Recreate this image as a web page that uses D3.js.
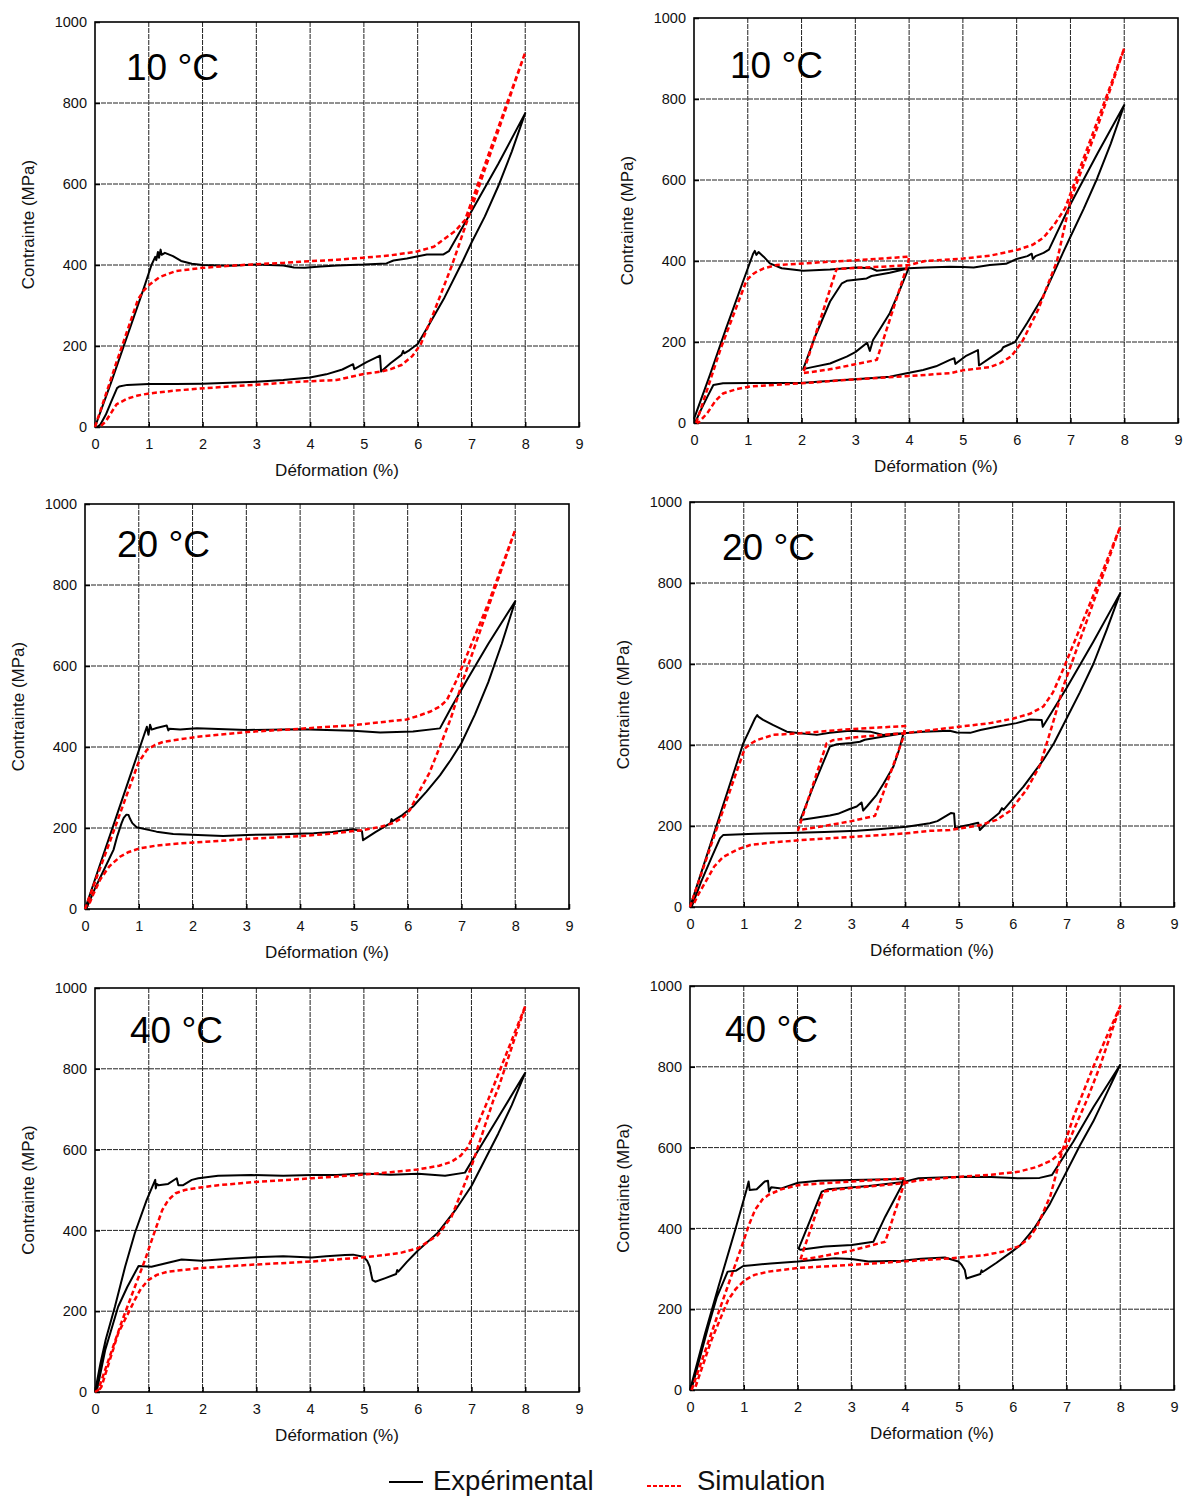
<!DOCTYPE html>
<html><head><meta charset="utf-8">
<script src="https://cdn.jsdelivr.net/npm/d3@7"></script>
<style>body{margin:0;background:#fff}</style>
</head><body><svg id="c" width="1186" height="1497"></svg>
<script>
const xTicks=[0,1,2,3,4,5,6,7,8,9];
const yTicks=[0,200,400,600,800,1000];
const gridX=[1,2,3,4,5,6,7,8];
const gridY=[200,400,600,800];
const xTitle="Déformation (%)";
const yTitle="Contrainte (MPa)";
const panelLabels=["10 °C","10 °C","20 °C","20 °C","40 °C","40 °C"];
const legendLabels=["Expérimental","Simulation"];

// Panel 1 : 10 °C, full cycle
const exp10a=[[0,0],[0.3,110],[0.6,225],[0.9,340],[1.05,400],[1.12,420],[1.14,412],[1.17,432],[1.19,418],[1.22,438],[1.24,425],[1.3,430],[1.45,422],[1.6,410],[1.8,403],[2.0,400],[2.5,398],[3.0,401],[3.5,399],[3.7,394],[3.9,393],[4.2,396],[4.5,399],[5.0,401],[5.42,404],[5.55,411],[5.8,416],[6.17,426],[6.48,426],[6.58,434],[6.91,511],[7.5,650],[8.0,775],
 [7.75,680],[7.5,595],[7.25,520],[7.0,455],[6.84,410],[6.5,320],[6.2,250],[6.0,205],[5.85,190],[5.75,182],[5.73,188],[5.7,178],[5.5,158],[5.32,137],[5.3,176],[5.05,160],[4.82,143],[4.8,155],[4.6,142],[4.3,130],[4.0,122],[3.5,116],[3.0,112],[2.5,109],[2.0,107],[1.5,106],[1.0,106],[0.6,104],[0.45,100],[0.41,96],[0.3,62],[0.2,30],[0.1,6],[0.04,0]];
const sim10a=[[0,0],[0.4,160],[0.8,315],[0.9,336],[1.0,350],[1.2,370],[1.5,385],[2.0,393],[2.5,398],[3.0,402],[3.5,405],[3.81,408],[4.5,413],[5.0,418],[5.5,424],[5.98,433],[6.3,445],[6.47,462],[6.7,484],[6.88,511],[7.5,740],[8.0,925],
 [7.5,732],[7.0,540],[6.64,400],[6.3,283],[6.06,205],[5.9,175],[5.7,153],[5.5,143],[5.33,137],[5.0,131],[4.49,116],[3.81,112],[3.19,106],[2.5,100],[1.95,95],[1.5,90],[1.02,83],[0.8,78],[0.6,70],[0.4,56],[0.3,35],[0.2,14],[0.09,0]];

// Panel 2 : 10 °C, partial cycle
const exp10b=[[0,10],[0.3,120],[0.6,235],[0.9,345],[1.05,400],[1.1,418],[1.13,425],[1.16,415],[1.2,422],[1.3,410],[1.41,394],[1.63,382],[2.03,376],[2.53,379],[3.02,384],[3.3,382],[3.4,376],[3.7,380],[3.99,382],
 [3.8,320],[3.64,271],[3.45,230],[3.33,205],[3.27,178],[3.22,198],[3.0,175],[2.84,164],[2.53,147],[2.2,138],[2.03,133],
 [2.25,213],[2.53,300],[2.75,345],[2.84,351],[3.21,357],[3.3,363],[3.64,371],[3.99,382],
 [4.3,384],[4.76,386],[5.0,385],[5.2,384],[5.5,390],[5.8,393],[6.0,405],[6.2,412],[6.28,418],[6.3,405],[6.35,412],[6.5,420],[6.6,428],[7.0,540],[7.5,665],[8.0,785],
 [7.75,690],[7.5,605],[7.25,530],[7.0,460],[6.86,420],[6.5,315],[6.2,248],[5.97,200],[5.75,187],[5.72,180],[5.5,160],[5.3,142],[5.28,180],[5.05,165],[4.86,146],[4.84,160],[4.76,156],[4.5,140],[4.26,131],[4.0,124],[3.64,114],[3.0,108],[2.5,104],[1.97,99],[1.0,99],[0.54,98],[0.36,94],[0.25,65],[0.12,30],[0.02,1]];
const sim10b=[[0.04,0],[0.5,185],[0.98,353],[1.1,368],[1.17,374],[1.3,382],[1.54,390],[2.03,394],[2.5,398],[3.02,402],[3.5,406],[4.0,411],[3.98,395],[3.40,156],[3.0,145],[2.5,132],[2.03,123],[2.65,380],[3.0,383],[3.5,386],[3.99,390],[4.3,400],[4.76,404],[5.0,406],[5.5,413],[6.0,427],[6.3,440],[6.5,458],[6.7,490],[6.9,530],[7.5,745],[8.0,925],
 [7.5,730],[7.0,550],[6.75,400],[6.4,280],[6.1,200],[5.9,165],[5.7,148],[5.5,138],[5.0,130],[4.76,123],[4.0,116],[3.0,108],[2.4,102],[2.0,98],[1.5,94],[1.04,90],[0.8,84],[0.54,73],[0.4,55],[0.25,25],[0.1,3],[0.05,0]];

// Panel 3 : 20 °C, full cycle
const exp20a=[[0,0],[0.3,118],[0.6,235],[0.9,352],[1.15,450],[1.18,430],[1.21,455],[1.24,443],[1.33,447],[1.52,453],[1.55,441],[1.57,445],[1.77,443],[2.08,446],[3.01,442],[4.0,444],[4.99,440],[5.49,436],[6.1,438],[6.6,446],[6.8,495],[7.1,565],[7.5,655],[8.0,760],
 [7.75,655],[7.5,560],[7.25,480],[7.0,410],[6.8,368],[6.6,330],[6.35,290],[6.1,253],[5.9,232],[5.72,217],[5.7,222],[5.68,212],[5.4,190],[5.17,170],[5.15,192],[4.99,197],[4.6,190],[4.25,187],[3.5,184],[3.01,183],[2.57,180],[2.1,183],[1.64,185],[1.33,191],[0.96,202],[0.88,212],[0.84,222],[0.81,232],[0.77,233],[0.72,225],[0.68,212],[0.6,180],[0.53,146],[0.4,110],[0.2,55],[0.03,2]];
const sim20a=[[0,0],[0.5,180],[0.99,360],[1.15,393],[1.3,405],[1.46,413],[2.08,425],[3.01,437],[4.0,445],[4.99,454],[5.98,468],[6.2,477],[6.41,487],[6.6,500],[6.73,516],[6.91,565],[7.5,755],[8.0,936],
 [7.5,745],[7.03,565],[6.8,470],[6.6,401],[6.4,335],[6.23,294],[6.04,244],[5.9,225],[5.73,212],[5.5,203],[5.17,195],[4.5,185],[4.0,180],[3.01,173],[2.5,168],[1.77,162],[1.3,156],[1.02,150],[0.8,140],[0.65,129],[0.45,105],[0.28,72],[0.15,35],[0.06,6]];

// Panel 4 : 20 °C, partial cycle
const exp20b=[[0,0],[0.3,122],[0.6,245],[0.99,404],[1.1,435],[1.21,466],[1.25,474],[1.27,470],[1.36,462],[1.55,449],[1.8,433],[2.05,429],[2.36,425],[2.6,430],[2.97,435],[3.35,433],[3.5,428],[3.59,425],[3.8,428],[3.97,429],
 [3.88,385],[3.78,346],[3.6,305],[3.47,277],[3.3,250],[3.22,238],[3.19,258],[3.1,248],[2.97,242],[2.75,230],[2.6,226],[2.3,220],[2.05,215],
 [2.3,300],[2.6,396],[2.73,402],[3.0,405],[3.16,408],[3.25,413],[3.6,421],[3.97,429],
 [4.34,433],[4.83,435],[4.96,431],[5.21,430],[5.4,437],[5.7,445],[6.07,454],[6.32,463],[6.54,462],[6.56,445],[7.0,540],[7.5,655],[8.0,775],
 [7.75,685],[7.5,600],[7.25,530],[7.0,465],[6.77,405],[6.57,363],[6.2,297],[5.83,240],[5.8,244],[5.75,232],[5.5,205],[5.39,190],[5.36,208],[5.2,203],[5.02,198],[4.93,194],[4.91,231],[4.85,232],[4.6,212],[4.46,207],[4.03,198],[3.5,192],[3.1,188],[2.5,185],[1.86,183],[1.2,181],[0.62,178],[0.56,170],[0.4,122],[0.2,60],[0.03,0]];
const sim20b=[[0,0],[0.5,195],[1.02,392],[1.15,405],[1.24,412],[1.55,425],[2.05,429],[2.5,434],[2.97,439],[3.5,443],[4.0,447],[3.97,420],[3.44,225],[3.0,212],[2.5,200],[2.01,190],[2.54,404],[2.66,412],[3.0,418],[3.5,424],[3.97,429],[4.5,437],[5.0,445],[5.58,454],[6.0,465],[6.32,477],[6.57,495],[6.75,530],[6.95,590],[7.44,750],[8.0,939],
 [7.5,752],[7.2,640],[6.94,544],[6.75,455],[6.51,350],[6.26,290],[5.95,237],[5.7,215],[5.39,202],[4.83,190],[4.46,188],[4.03,182],[3.0,173],[2.05,165],[1.5,159],[1.12,153],[0.9,143],[0.62,124],[0.45,100],[0.31,67],[0.15,30],[0.06,5]];

// Panel 5 : 40 °C, full cycle
const exp40a=[[0,0],[0.1,70],[0.2,130],[0.37,211],[0.56,310],[0.74,393],[0.96,475],[1.12,525],[1.13,504],[1.15,515],[1.18,512],[1.36,515],[1.52,529],[1.55,512],[1.64,512],[1.8,525],[1.92,529],[2.29,535],[2.91,537],[3.5,535],[4.03,537],[4.5,537],[4.96,541],[5.5,538],[6.01,540],[6.51,535],[6.88,543],[7.13,599],[7.5,680],[8.0,790],
 [7.75,710],[7.5,640],[7.25,575],[7.0,510],[6.7,450],[6.38,395],[6.01,351],[5.8,322],[5.64,298],[5.62,302],[5.6,292],[5.4,282],[5.21,273],[5.16,277],[5.13,295],[5.11,310],[5.06,325],[4.99,335],[4.8,340],[4.65,339],[4.3,336],[4.03,333],[3.5,336],[2.91,333],[2.5,330],[1.98,325],[1.61,328],[1.3,318],[1.05,310],[0.81,312],[0.6,260],[0.43,211],[0.19,104],[0.03,0]];
const sim40a=[[0,0],[0.06,5],[0.5,175],[0.93,327],[1.12,401],[1.25,450],[1.36,475],[1.5,492],[1.67,500],[2.0,507],[2.29,512],[3.0,520],[4.03,529],[4.96,538],[5.5,544],[6.01,551],[6.4,560],[6.63,570],[6.8,585],[6.94,607],[7.31,723],[8.0,955],
 [7.5,752],[7.41,723],[7.0,558],[6.8,490],[6.63,434],[6.38,389],[6.01,356],[5.7,345],[5.39,339],[4.96,333],[4.03,323],[2.91,315],[1.98,307],[1.36,298],[1.15,290],[0.99,277],[0.85,255],[0.74,228],[0.43,145],[0.12,13],[0.05,0]];

// Panel 6 : 40 °C, partial cycle
const exp40b=[[0,0],[0.28,140],[0.53,256],[0.84,396],[1.05,495],[1.09,516],[1.11,495],[1.24,497],[1.39,516],[1.45,518],[1.47,491],[1.51,502],[1.7,499],[2.01,513],[2.39,518],[3.01,520],[3.5,521],[3.97,522],
 [3.94,507],[3.63,429],[3.41,367],[3.01,359],[2.51,355],[2.05,347],[2.02,350],
 [2.45,491],[2.57,497],[3.32,505],[3.97,515],
 [4.25,524],[5.05,528],[5.6,527],[6.10,524],[6.5,525],[6.73,532],[7.13,615],[7.5,700],[8.0,805],
 [7.75,735],[7.5,665],[7.25,605],[7.0,540],[6.69,460],[6.4,400],[6.14,358],[5.98,342],[5.7,315],[5.44,292],[5.42,296],[5.4,287],[5.14,276],[5.12,290],[5.11,297],[5.05,310],[4.99,318],[4.74,328],[4.3,325],[3.94,320],[3.32,318],[3.0,324],[2.7,326],[2.3,322],[2.01,318],[1.5,313],[1.15,309],[0.99,307],[0.85,295],[0.7,293],[0.5,230],[0.34,157],[0.03,3]];
const sim40b=[[0.03,0],[0.5,180],[0.96,355],[1.1,410],[1.21,446],[1.35,472],[1.46,483],[1.7,497],[2.01,507],[2.5,512],[3.01,516],[3.5,520],[4.0,524],[3.98,510],[3.63,367],[3.0,345],[2.5,332],[2.05,322],[2.48,491],[2.7,496],[3.0,500],[3.5,506],[3.97,512],[4.25,519],[5.05,528],[5.6,533],[6.10,540],[6.45,552],[6.73,569],[7.0,602],[7.38,718],[7.62,800],[8.0,950],
 [7.5,800],[7.13,676],[6.91,586],[6.7,480],[6.45,404],[6.3,375],[6.10,355],[5.8,342],[5.49,334],[4.87,326],[3.94,318],[3.01,310],[2.01,302],[1.46,293],[1.2,285],[1.02,272],[0.85,250],[0.71,223],[0.40,124],[0.09,3]];

const expSeries=[exp10a,exp10b,exp20a,exp20b,exp40a,exp40b];
const simSeries=[sim10a,sim10b,sim20a,sim20b,sim40a,sim40b];

// layout (pixel geometry only)
const layout=[
 {left:95,top:22,w:484,h:405,lx:31,ly:58},
 {left:694,top:18,w:484,h:405,lx:36,ly:60},
 {left:85,top:504,w:484,h:405,lx:32,ly:53},
 {left:690,top:502,w:484,h:405,lx:32,ly:58},
 {left:95,top:988,w:484,h:404,lx:35,ly:55},
 {left:690,top:986,w:484,h:404,lx:35,ly:56}
];

const svg=d3.select("#c");
const FONT="'Liberation Sans', Arial, sans-serif";
const RED="#ff0000";

layout.forEach((L,i)=>{
  const g=svg.append("g").attr("transform",`translate(${L.left},${L.top})`);
  const x=d3.scaleLinear().domain([0,9]).range([0,L.w]);
  const y=d3.scaleLinear().domain([0,1000]).range([L.h,0]);
  // grid
  g.append("g").selectAll("line").data(gridX).join("line")
    .attr("x1",d=>x(d)).attr("x2",d=>x(d)).attr("y1",0).attr("y2",L.h)
    .attr("stroke","#222").attr("stroke-width",1).attr("stroke-dasharray","5,1");
  g.append("g").selectAll("line").data(gridY).join("line")
    .attr("y1",d=>y(d)).attr("y2",d=>y(d)).attr("x1",0).attr("x2",L.w)
    .attr("stroke","#222").attr("stroke-width",1).attr("stroke-dasharray","5,1");
  // axes via d3
  const ax=g.append("g").attr("transform",`translate(0,${L.h})`)
    .call(d3.axisBottom(x).tickValues(xTicks).tickSize(-5).tickPadding(12).tickFormat(d3.format("d")));
  const ay=g.append("g")
    .call(d3.axisLeft(y).tickValues(yTicks).tickSize(-5).tickPadding(8).tickFormat(d3.format("d")));
  [ax,ay].forEach(a=>{
    a.select(".domain").remove();
    a.selectAll(".tick line").attr("stroke","#000").attr("stroke-width",1.5);
    a.selectAll(".tick text").attr("font-family",FONT).attr("font-size",14.5).attr("fill","#111");
  });
  // frame
  g.append("rect").attr("x",0).attr("y",0).attr("width",L.w).attr("height",L.h)
    .attr("fill","none").attr("stroke","#000").attr("stroke-width",1.6);
  // titles
  g.append("text").attr("x",L.w/2).attr("y",L.h+49).attr("text-anchor","middle")
    .attr("font-family",FONT).attr("font-size",17).attr("fill","#111").text(xTitle);
  g.append("text").attr("transform",`translate(-61,${L.h/2}) rotate(-90)`).attr("text-anchor","middle")
    .attr("font-family",FONT).attr("font-size",17).attr("fill","#111").text(yTitle);
  // label
  g.append("text").attr("x",L.lx).attr("y",L.ly).attr("font-family",FONT).attr("font-size",37)
    .attr("fill","#000").text(panelLabels[i]);
  // curves
  const line=d3.line().x(d=>x(d[0])).y(d=>y(d[1]));
  g.append("path").attr("d",line(expSeries[i])).attr("fill","none").attr("stroke","#000")
    .attr("stroke-width",2).attr("stroke-linejoin","round");
  g.append("path").attr("d",line(simSeries[i])).attr("fill","none").attr("stroke",RED)
    .attr("stroke-width",2.5).attr("stroke-dasharray","5,3").attr("stroke-linejoin","round");
});

// legend
const lg=svg.append("g");
lg.append("line").attr("x1",389).attr("x2",423).attr("y1",1482).attr("y2",1482).attr("stroke","#000").attr("stroke-width",2);
lg.append("text").attr("x",433).attr("y",1490).attr("font-family",FONT).attr("font-size",27.5).attr("fill","#111").text(legendLabels[0]);
lg.append("line").attr("x1",647).attr("x2",683).attr("y1",1486).attr("y2",1486).attr("stroke",RED).attr("stroke-width",2).attr("stroke-dasharray","4,2");
lg.append("text").attr("x",697).attr("y",1490).attr("font-family",FONT).attr("font-size",27.5).attr("fill","#111").text(legendLabels[1]);
</script></body></html>
